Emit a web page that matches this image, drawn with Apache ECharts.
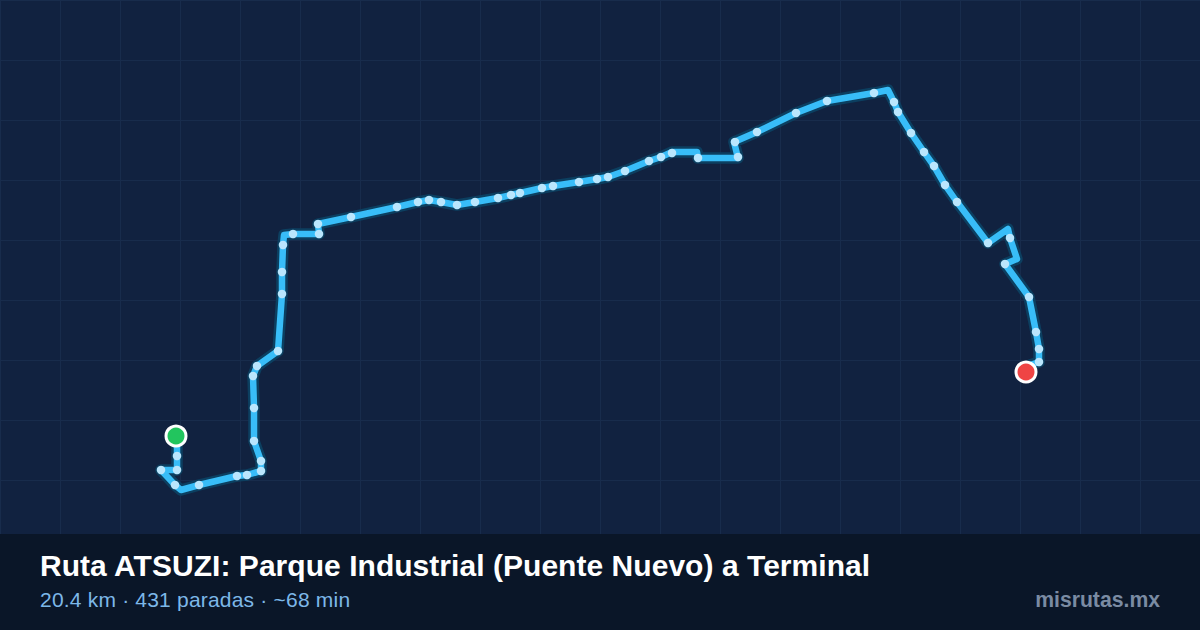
<!DOCTYPE html>
<html><head><meta charset="utf-8">
<style>html,body{margin:0;padding:0;background:#112240}#c{width:1200px;height:630px}
#c text[style*=" 21px"]{letter-spacing:.2px}
#c text[style*=" 30px"]{letter-spacing:.04px}
</style>
<script src="https://cdn.jsdelivr.net/npm/echarts@6/dist/echarts.min.js"></script>
</head><body><div id="c"></div>
<script>
const routeX=[177,177,177,161,175,181,199,237,247,261,261,254,254,253,257,278,282,282,283,284,293,319,318,351,397,418,429,441,457,475,498,511,520,542,553,579,597,608,625,649,661,672,697,698,738,734,757,796,827,874,888,894,898,911,924,934,945,957,988,1008,1010,1017,1005,1029,1036,1039,1039,1030,1026];
const routeY=[436,456,470,470,485,490,485,476,475,471,461,441,408,376,366,351,294,272,245,235,234,234,224,217,207,202,200,202,205,202,198,195,193,188,186,182,179,177,171,161,157,152,152,158,158,142,132,113,101,93,90,102,112,133,152,166,185,202,243,229,238,259,264,297,332,349,362,365,372];
const stopX=[177,177,161,175,199,237,247,261,261,254,254,253,257,278,282,282,283,293,319,318,351,397,418,429,441,457,475,498,511,520,542,553,579,597,608,625,649,661,672,698,738,735,757,796,827,874,894,898,911,924,934,945,957,988,1010,1005,1029,1036,1039,1039];
const stopY=[456,470,470,485,485,476,475,471,461,441,408,376,366,351,294,272,245,234,234,224,217,207,202,200,202,205,202,198,195,193,188,186,182,179,177,171,161,157,153,158,157,142,132,113,101,93,102,112,133,152,166,185,202,243,238,264,297,332,349,362];
const startPoint=[176,436];
const endPoint=[1026,372];
const titleText="Ruta ATSUZI: Parque Industrial (Puente Nuevo) a Terminal";
const subtitleText="20.4 km · 431 paradas · ~68 min";
const brandText="misrutas.mx";

const zip=(a,b)=>a.map((v,i)=>[v,b[i]]);
const route=zip(routeX,routeY), stops=zip(stopX,stopY);
const font='"Liberation Sans", Arial, sans-serif';
const chart=echarts.init(document.getElementById('c'),null,{renderer:'svg'});
chart.setOption({
  animation:false,
  backgroundColor:'#112240',
  grid:{left:0,right:0,top:0,bottom:0,containLabel:false},
  xAxis:{type:'value',min:0,max:1200,interval:60,axisLine:{show:false},axisTick:{show:false},axisLabel:{show:false},
    splitLine:{show:true,lineStyle:{color:'#182c4c',width:1}}},
  yAxis:{type:'value',min:0,max:630,interval:60,inverse:true,axisLine:{show:false},axisTick:{show:false},axisLabel:{show:false},
    splitLine:{show:true,lineStyle:{color:'#182c4c',width:1}}},
  graphic:[{type:'rect',z:1,shape:{x:0,y:534,width:1200,height:96},style:{fill:'#0a1628'}}],
  title:[
    {text:titleText,left:40,top:548,padding:0,textStyle:{color:'#ffffff',fontFamily:font,fontWeight:'bold',fontSize:30,lineHeight:34}},
    {text:subtitleText,left:40,top:587,padding:0,textStyle:{color:'#7db8e8',fontFamily:font,fontWeight:'normal',fontSize:21,lineHeight:24}},
    {text:brandText,right:40,top:587,padding:0,textStyle:{color:'#7a8ba3',fontFamily:font,fontWeight:'bold',fontSize:21.2,lineHeight:24}}
  ],
  series:[
    {type:'line',data:route,symbol:'none',silent:true,z:2,lineStyle:{color:'#0c3f60',width:11.5,join:'round',cap:'round'}},
    {type:'line',data:route,symbol:'none',silent:true,z:3,lineStyle:{color:'#38bdf8',width:6.5,join:'round',cap:'round'}},
    {type:'scatter',data:stops,symbolSize:8.5,silent:true,z:4,itemStyle:{color:'#bae6fd',opacity:1}},
    {type:'scatter',data:[startPoint],symbolSize:20,silent:true,z:5,itemStyle:{color:'#22c55e',borderColor:'#ffffff',borderWidth:3,opacity:1}},
    {type:'scatter',data:[endPoint],symbolSize:20,silent:true,z:5,itemStyle:{color:'#ef4444',borderColor:'#ffffff',borderWidth:3,opacity:1}}
  ]
});
</script></body></html>
